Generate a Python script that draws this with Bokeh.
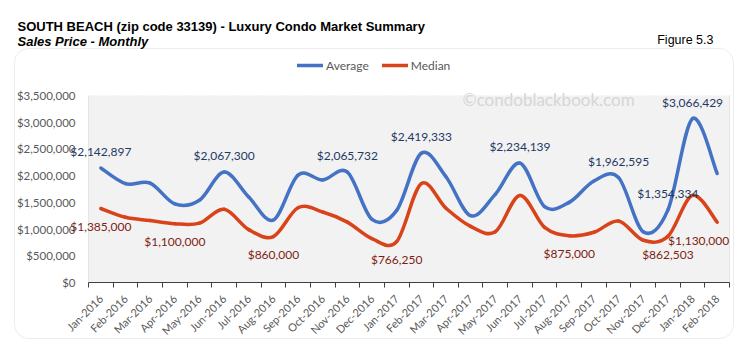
import math
from bokeh.plotting import figure
from bokeh.models import (ColumnDataSource, FixedTicker, NumeralTickFormatter, Label,
                          BoxAnnotation, Legend, LegendItem, Range1d, LinearAxis)
from bokeh.core.properties import value
from bokeh.embed import file_html
from bokeh.resources import INLINE

months = ["Jan-2016", "Feb-2016", "Mar-2016", "Apr-2016", "May-2016", "Jun-2016",
          "Jul-2016", "Aug-2016", "Sep-2016", "Oct-2016", "Nov-2016", "Dec-2016",
          "Jan-2017", "Feb-2017", "Mar-2017", "Apr-2017", "May-2017", "Jun-2017",
          "Jul-2017", "Aug-2017", "Sep-2017", "Oct-2017", "Nov-2017", "Dec-2017",
          "Jan-2018", "Feb-2018"]
average = [2142897, 1850000, 1860000, 1470000, 1540000, 2067300, 1600000, 1170000,
           2010000, 1920000, 2065732, 1180000, 1350000, 2419333, 1980000, 1250000,
           1650000, 2234139, 1420000, 1500000, 1900000, 1962595, 950000, 1354334,
           3066429, 2040000]
median = [1385000, 1220000, 1160000, 1100000, 1110000, 1370000, 990000, 860000,
          1400000, 1320000, 1130000, 820000, 766250, 1850000, 1390000, 1050000,
          950000, 1630000, 1030000, 875000, 940000, 1150000, 790000, 862503,
          1630000, 1130000]
avg_labeled = [0, 5, 10, 13, 17, 21, 23, 24]
med_labeled = [0, 3, 7, 12, 19, 23, 25]
y_ticks = [0, 500000, 1000000, 1500000, 2000000, 2500000, 3000000, 3500000]

BLUE = "#4472C4"
RED = "#D9431A"
FONT = "Lato"
SANS = "Liberation Sans"
GRAY = "#595959"

# page layout (pixels)
W, H = 744, 349
PX_L, PX_R, PX_T, PX_B = 88, 729, 95, 282

n = len(months)
x_lo, x_hi = -0.5, n - 0.5
y_lo, y_hi = y_ticks[0], y_ticks[-1]
sx = (PX_R - PX_L) / (x_hi - x_lo)
sy = (PX_B - PX_T) / (y_hi - y_lo)

p = figure(width=W, height=H, output_backend="svg", toolbar_location=None,
           x_range=Range1d(x_lo - PX_L / sx, x_hi + (W - PX_R) / sx),
           y_range=Range1d(y_lo - (H - PX_B) / sy, y_hi + PX_T / sy),
           min_border=0, x_axis_location=None, y_axis_location=None)
p.outline_line_color = None
p.background_fill_color = "white"
p.border_fill_color = "white"
p.grid.visible = False

# plot area background
p.add_layout(BoxAnnotation(left=x_lo, right=x_hi, bottom=y_lo, top=y_hi,
                           fill_color="#F2F2F2", fill_alpha=1, line_color=None,
                           level="underlay"))
# vertical grid lines between categories
bounds = [i - 0.5 for i in range(n + 1)]
p.segment(x0=bounds, x1=bounds, y0=[y_lo] * len(bounds), y1=[y_hi] * len(bounds),
          line_color="#D9D9D9", line_width=1, level="underlay")

xa = LinearAxis(fixed_location=y_lo, bounds=(x_lo, x_hi))
xa.ticker = FixedTicker(ticks=list(range(n)), minor_ticks=bounds)
xa.major_label_overrides = {i: m for i, m in enumerate(months)}
xa.major_label_orientation = math.pi / 4
xa.major_tick_line_color = None
xa.major_tick_in = 0
xa.major_tick_out = 0
xa.minor_tick_in = 0
xa.minor_tick_out = 5
xa.minor_tick_line_color = "#404040"
xa.axis_line_color = "#404040"
xa.major_label_text_font = FONT
xa.major_label_text_font_size = "11px"
xa.major_label_text_color = GRAY
xa.major_label_standoff = 9
p.add_layout(xa, "below")

ya = LinearAxis(fixed_location=x_lo, bounds=(y_lo, y_hi))
ya.ticker = FixedTicker(ticks=y_ticks)
ya.formatter = NumeralTickFormatter(format="$0,0")
ya.axis_line_color = None
ya.major_tick_line_color = None
ya.major_tick_in = 0
ya.major_tick_out = 0
ya.minor_tick_line_color = None
ya.major_label_text_font = FONT
ya.major_label_text_font_size = "11.5px"
ya.major_label_text_color = GRAY
ya.major_label_standoff = 13
p.add_layout(ya, "left")


def smooth_segments(vals):
    xs = list(range(len(vals)))
    m = len(vals)

    def P(i):
        i = max(0, min(m - 1, i))
        return xs[i], vals[i]
    d = dict(x0=[], y0=[], x1=[], y1=[], cx0=[], cy0=[], cx1=[], cy1=[])
    for i in range(m - 1):
        xa_, ya_ = P(i - 1)
        xb, yb = P(i)
        xc, yc = P(i + 1)
        xd, yd = P(i + 2)
        d["x0"].append(xb); d["y0"].append(yb)
        d["x1"].append(xc); d["y1"].append(yc)
        d["cx0"].append(xb + (xc - xa_) / 6); d["cy0"].append(yb + (yc - ya_) / 6)
        d["cx1"].append(xc - (xd - xb) / 6); d["cy1"].append(yc - (yd - yb) / 6)
    return ColumnDataSource(d)


renderers = []
for vals, col in ((average, BLUE), (median, RED)):
    renderers.append(p.bezier(x0="x0", y0="y0", x1="x1", y1="y1", cx0="cx0",
                              cy0="cy0", cx1="cx1", cy1="cy1",
                              source=smooth_segments(vals), line_color=col,
                              line_width=3.5, line_cap="round"))


def label_source(vals, idx):
    return ColumnDataSource(dict(
        x=idx, y=[vals[i] for i in idx], t=["${:,}".format(vals[i]) for i in idx],
        align=["right" if i == n - 1 else "center" for i in idx],
        xo=[12 if i == n - 1 else 0 for i in idx]))


p.text(x="x", y="y", text="t", source=label_source(average, avg_labeled),
       text_font=value(FONT), text_font_size="12px", text_color="#1F3864",
       text_align="align", x_offset="xo", text_baseline="middle", y_offset=-16.5)
p.text(x="x", y="y", text="t", source=label_source(median, med_labeled),
       text_font=value(FONT), text_font_size="12px", text_color="#7F1D14",
       text_align="align", x_offset="xo", text_baseline="middle", y_offset=18)

# legend
legend = Legend(items=[LegendItem(label="Average", renderers=[renderers[0]]),
                       LegendItem(label="Median", renderers=[renderers[1]])],
                orientation="horizontal", location=(297, H - 57 - 16), padding=0,
                margin=0, spacing=13, glyph_width=26, glyph_height=16,
                label_height=16, label_standoff=3, border_line_color=None,
                background_fill_alpha=0, label_text_font=FONT,
                label_text_font_size="12px", label_text_color=GRAY)
p.add_layout(legend)

# frame box and texts
p.add_layout(BoxAnnotation(left=14, right=733, top=48, bottom=338, left_units="canvas",
                           right_units="canvas", top_units="canvas",
                           bottom_units="canvas", fill_color=None, line_color="#BFBFBF",
                           line_width=1, border_radius=14))
p.add_layout(Label(x=462, y=99, x_units="canvas", y_units="canvas",
                   text="\u00a9condoblackbook.com", text_font=FONT,
                   text_font_size="17px", text_color="#D6D6D6", text_baseline="middle"))
p.add_layout(Label(x=17, y=26, x_units="canvas", y_units="canvas",
                   text="SOUTH BEACH (zip code 33139) - Luxury Condo Market Summary",
                   text_font=SANS, text_font_style="bold", text_font_size="13px",
                   text_color="#000000", text_baseline="alphabetic"))
p.add_layout(Label(x=17, y=40.5, x_units="canvas", y_units="canvas",
                   text="Sales Price - Monthly", text_font=SANS,
                   text_font_style="bold italic", text_font_size="13px",
                   text_color="#000000", text_baseline="alphabetic"))
p.add_layout(Label(x=713, y=39.5, x_units="canvas", y_units="canvas",
                   text="Figure 5.3", text_font=SANS, text_font_size="12.5px",
                   text_color="#000000", text_align="right",
                   text_baseline="alphabetic"))

open("out.html", "w").write(file_html(p, INLINE))
